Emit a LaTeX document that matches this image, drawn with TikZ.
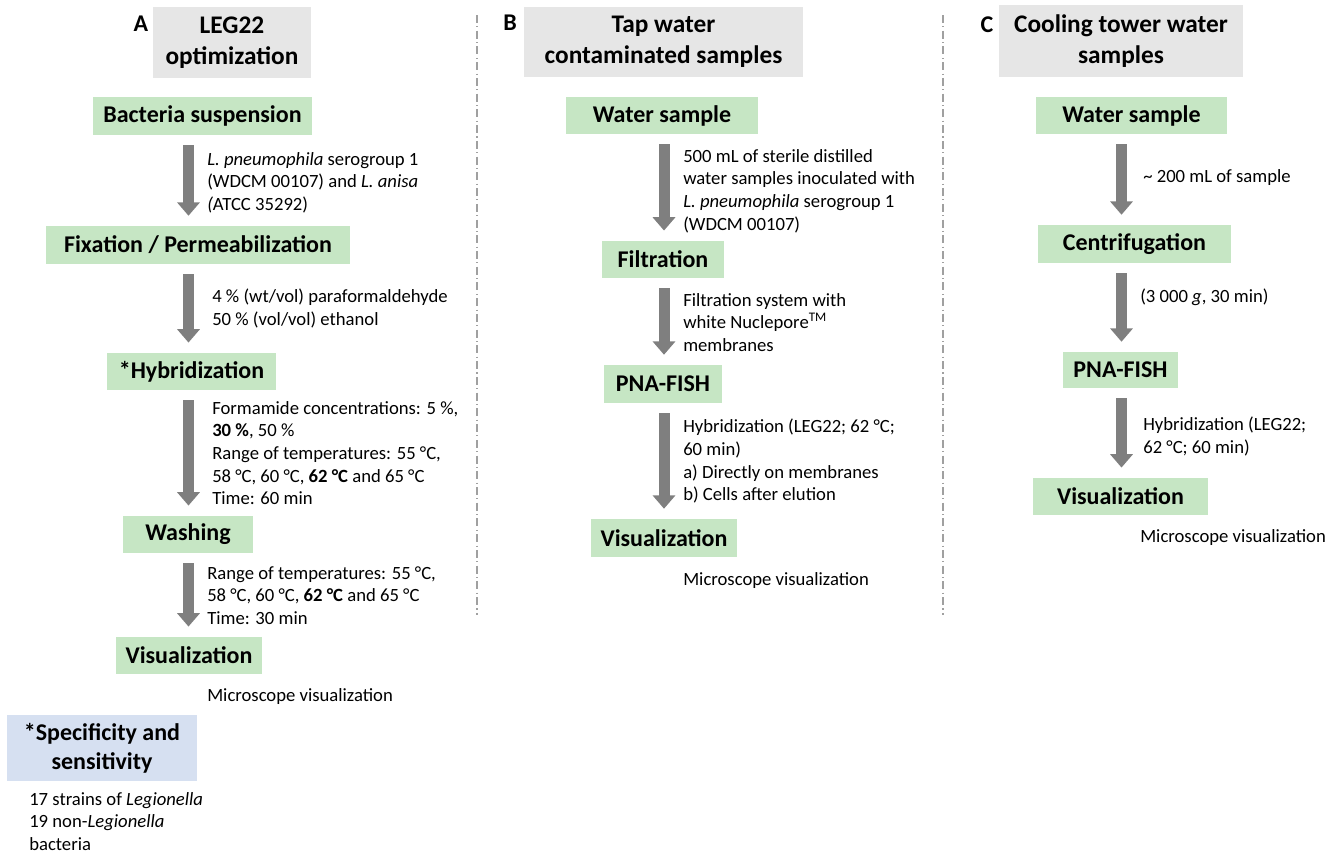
\documentclass[tikz,border=0pt]{standalone}
\usepackage{fontspec}
\setmainfont{Carlito}
\usepackage{tikz}
\usetikzlibrary{arrows.meta}
\definecolor{stepgreen}{HTML}{C6E6C4}
\definecolor{hdrgray}{HTML}{E6E6E6}
\definecolor{specblue}{HTML}{D6E0F1}
\definecolor{flowgray}{HTML}{7F7F7F}
\definecolor{sepgray}{HTML}{A0A0A0}
\tikzset{
  hdr/.style={fill=hdrgray, align=center, inner sep=0pt, font=\fontsize{19}{23}\selectfont\bfseries},
  stepbox/.style={fill=stepgreen, inner sep=0pt, font=\fontsize{18}{22}\selectfont\bfseries},
  specbox/.style={fill=specblue, align=center, inner sep=0pt, font=\fontsize{18}{22}\selectfont\bfseries},
  lab/.style={font=\fontsize{18}{22}\selectfont\bfseries},
  note/.style={anchor=north west, align=left, inner sep=0pt, font=\fontsize{14}{17}\selectfont},
  flow/.style={draw=flowgray, line width=8.25pt, shorten <=7.5pt, shorten >=7.5pt,
    -{Triangle[width=16.5pt, length=10pt]}},
  sep/.style={draw=sepgray, line width=0.8pt, dash pattern=on 6pt off 2.5pt on 0.8pt off 2.5pt}
}
\begin{document}
\begin{tikzpicture}[x=0.75pt, y=-0.75pt]
  \useasboundingbox (0,0) rectangle (1344,854);

  \coordinate (axA) at (188.5,0);
  \coordinate (axB) at (664,0);
  \coordinate (axC) at (1121.5,0);

  % separators
  \coordinate (sepBt) at (477,15);
  \coordinate (sepBb) at (477,615);
  \coordinate (sepCt) at (943,15);
  \coordinate (sepCb) at (943,615);
  \draw[sep] (sepBt) -- (sepBb);
  \draw[sep] (sepCt) -- (sepCb);

  % A: LEG22 optimization
  \node[lab] (labA) at (141,24) {A};
  \node[hdr, minimum width=118.5pt, minimum height=53pt] (hdrA) at (232,42.5) {LEG22\\optimization\vphantom{A}};
  \node[stepbox, minimum width=164pt, minimum height=28.5pt] (bact) at (202.5,116) {Bacteria suspension};
  \node[stepbox, minimum width=228pt, minimum height=28.5pt] (fix) at (198,245) {Fixation / Permeabilization};
  \node[stepbox, minimum width=127pt, minimum height=28pt] (hyb) at (191.5,371.5) {*Hybridization};
  \node[stepbox, minimum width=97.5pt, minimum height=28pt] (wash) at (188,534.5) {Washing};
  \node[stepbox, minimum width=109.5pt, minimum height=28pt] (visA) at (189,655.5) {Visualization};
  \node[specbox, minimum width=142.5pt, minimum height=49.5pt] (spec) at (102,748) {*Specificity and\\sensitivity};

  \node[note] (tA1) at (207,152) {\textit{L. pneumophila} serogroup 1\\(WDCM 00107) and \textit{L. anisa}\\\textit{(}ATCC 35292)};
  \node[note] (tA2) at (212,289) {4 \% (wt/vol) paraformaldehyde\\50 \% (vol/vol) ethanol};
  \node[note] (tA3) at (212,401) {Formamide concentrations: 5 \%,\\\textbf{30 \%}, 50 \%\\Range of temperatures: 55 °C,\\58 °C, 60 °C, \textbf{62 °C} and 65 °C\\Time: 60 min};
  \node[note] (tA4) at (207,566) {Range of temperatures: 55 °C,\\58 °C, 60 °C, \textbf{62 °C} and 65 °C\\Time: 30 min};
  \node[note] (tA5) at (207,688) {Microscope visualization};
  \node[note] (tA6) at (29,792) {17 strains of \textit{Legionella}\\19 non-\textit{Legionella}\\bacteria};

  \draw[flow] (bact.south -| axA) -- (fix.north -| axA);
  \draw[flow] (fix.south -| axA) -- (hyb.north -| axA);
  \draw[flow] (hyb.south -| axA) -- (wash.north -| axA);
  \draw[flow] (wash.south -| axA) -- (visA.north -| axA);

  % B: tap water
  \node[lab] (labB) at (510,23) {B};
  \node[hdr, minimum width=209pt, minimum height=52.5pt] (hdrB) at (663.5,42) {Tap water\\contaminated samples};
  \node[stepbox, minimum width=144pt, minimum height=28pt] (waterB) at (662,115.5) {Water sample};
  \node[stepbox, minimum width=91.5pt, minimum height=28pt] (filt) at (663,259.5) {Filtration};
  \node[stepbox, minimum width=88.5pt, minimum height=28.5pt] (pnaB) at (663,384) {PNA-FISH};
  \node[stepbox, minimum width=109.5pt, minimum height=28.5pt] (visB) at (664,538) {Visualization};

  \node[note] (tB1) at (683,149) {500 mL of sterile distilled\\water samples inoculated with\\\textit{L. pneumophila} serogroup 1\\(WDCM 00107)};
  \node[note] (tB2) at (683,293) {Filtration system with\\white Nuclepore\textsuperscript{TM}\\membranes};
  \node[note] (tB3) at (683,419) {Hybridization (LEG22; 62 °C;\\60 min)\\a) Directly on membranes\\b) Cells after elution};
  \node[note] (tB4) at (683,572) {Microscope visualization};

  \draw[flow] (waterB.south -| axB) -- (filt.north -| axB);
  \draw[flow] (filt.south -| axB) -- (pnaB.north -| axB);
  \draw[flow] (pnaB.south -| axB) -- (visB.north -| axB);

  % C: cooling tower
  \node[lab] (labC) at (987,25) {C};
  \node[hdr, minimum width=183pt, minimum height=54pt] (hdrC) at (1121,41) {Cooling tower water\\samples};
  \node[stepbox, minimum width=143pt, minimum height=28pt] (waterC) at (1131.5,115.5) {Water sample};
  \node[stepbox, minimum width=145pt, minimum height=28.5pt] (cent) at (1134.5,244) {Centrifugation};
  \node[stepbox, minimum width=86pt, minimum height=27pt] (pnaC) at (1120.5,370) {PNA-FISH};
  \node[stepbox, minimum width=131pt, minimum height=28pt] (visC) at (1120.5,496.5) {Visualization};

  \node[note] (tC1) at (1143,169) {\textasciitilde{} 200 mL of sample};
  \node[note] (tC2) at (1140,289) {(3 000 \textit{g}, 30 min)};
  \node[note] (tC3) at (1143,417) {Hybridization (LEG22;\\62 °C; 60 min)};
  \node[note] (tC4) at (1140,529) {Microscope visualization};

  \draw[flow] (waterC.south -| axC) -- (cent.north -| axC);
  \draw[flow] (cent.south -| axC) -- (pnaC.north -| axC);
  \draw[flow] (pnaC.south -| axC) -- (visC.north -| axC);
\end{tikzpicture}
\end{document}
